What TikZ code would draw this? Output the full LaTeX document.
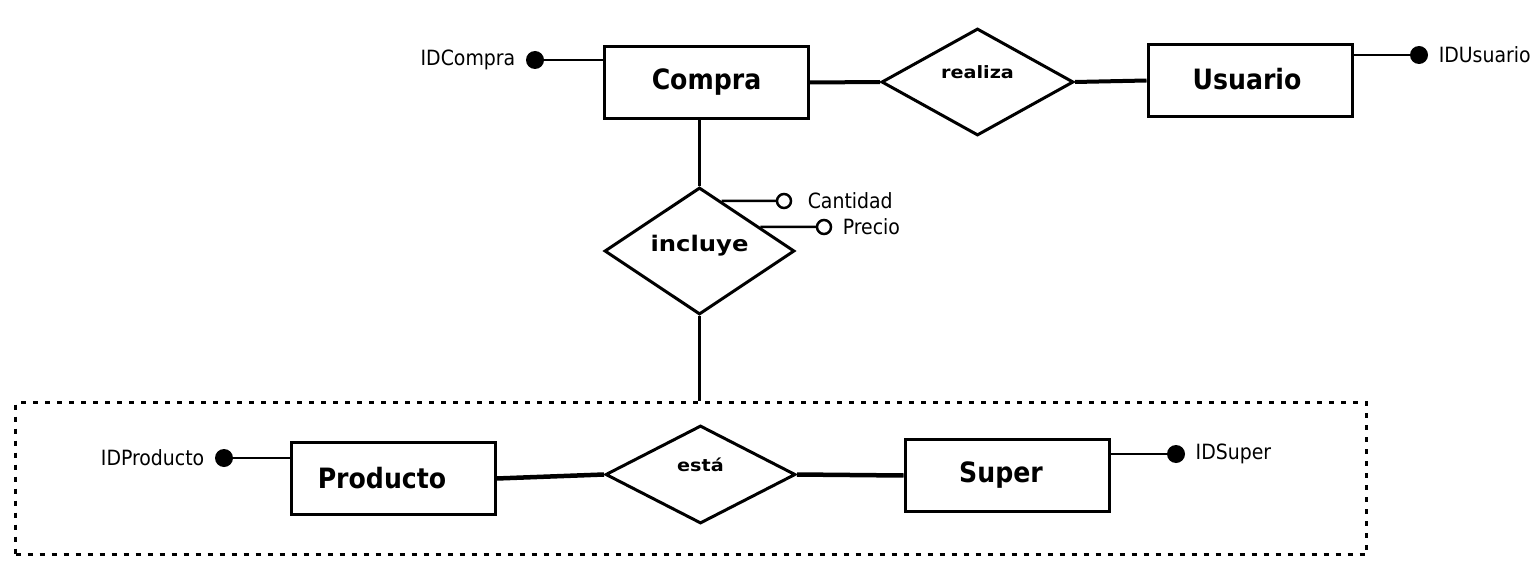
\documentclass[tikz,border=0pt]{standalone}
\usepackage{fontspec}
\setmainfont{DejaVu Sans}
\newfontfamily\condfont{DejaVu Sans Condensed}
\newfontfamily\widefont[FakeStretch=1.13]{DejaVu Sans}
\usetikzlibrary{shapes.geometric, calc}

\begin{document}
\begin{tikzpicture}[x=1pt, y=-1pt,
        entity/.style={draw, line width=3pt, fill=white, inner sep=0pt,
            minimum width=204pt, minimum height=72pt,
            font=\condfont\bfseries\fontsize{28}{30}\selectfont},
        relation/.style={draw, diamond, line width=3pt, fill=white, inner sep=0pt},
        relname/.style={font=\widefont\bfseries\fontsize{#1}{#1}\selectfont},
        keyattr/.style={circle, fill, inner sep=0pt, minimum size=18pt},
        attr/.style={circle, draw, line width=2.5pt, fill=white, inner sep=0pt,
            minimum size=14pt},
        attrname/.style={font=\condfont\fontsize{21}{23}\selectfont, label distance=7pt},
        link/.style={line width=4pt},
        attrlink/.style={line width=2.5pt}]
        \useasboundingbox (0,0) rectangle (1536,575);

        % dotted group around Producto - esta - Super
        \node[draw, line width=3pt, dash pattern=on 5pt off 7pt, minimum width=1351pt,
            minimum height=152pt] (grupo) at (691,478.5) {};

        % entities
        \node[entity] (compra) at (706.5,82.5) {Compra};
        \node[entity] (usuario) at (1250,80.5) {\raisebox{3pt}{Usuario}\rule{6pt}{0pt}};
        \node[entity] (producto) at (393,478.5) {\raisebox{2pt}{Producto}\rule{22pt}{0pt}};
        \node[entity] (super) at (1007,475.5) {\raisebox{2pt}{Super}\rule{12pt}{0pt}};

        % relations
        \node[relation, minimum width=192pt, minimum height=107pt,
            label={[relname=17, yshift=10pt]center:realiza}] (realiza) at (977.5,82) {};
        \node[relation, minimum width=190pt, minimum height=127pt,
            label={[relname=21.5, yshift=5pt]center:incluye}] (incluye) at (699.5,251) {};
        \node[relation, minimum width=190pt, minimum height=98pt,
            label={[relname=17, yshift=10pt]center:está}] (esta) at (700.5,474.5) {};

        % attributes
        \node[keyattr, label={[attrname]left:IDCompra}] (idcompra) at (535,60) {};
        \node[keyattr, label={[attrname]right:IDUsuario}] (idusuario) at (1419,55) {};
        \node[keyattr, label={[attrname]left:IDProducto}] (idproducto) at (224,458) {};
        \node[keyattr, label={[attrname]right:IDSuper}] (idsuper) at (1176,454) {};
        \node[attr, label={[attrname, label distance=12pt]right:Cantidad}] (cantidad) at (784,201) {};
        \node[attr, label={[attrname]right:Precio}] (precio) at (824,227) {};

        % connectors
        \draw[link] (compra.east) -- (realiza.west);
        \draw[link] (realiza.east) -- (usuario.west);
        \draw[link, line width=3.5pt] (incluye.north) -- (incluye.north |- compra.south);
        \draw[link, line width=3.5pt] (incluye.south) -- (incluye.south |- grupo.north);
        \draw[link, line width=4.5pt] (producto.east) -- (esta.west);
        \draw[link, line width=4.5pt] (esta.east) -- (super.west);

        \draw[attrlink] (idcompra) -- (idcompra -| compra.west);
        \draw[attrlink] (idusuario) -- (idusuario -| usuario.east);
        \draw[attrlink] (idproducto) -- (idproducto -| producto.west);
        \draw[attrlink] (idsuper) -- (idsuper -| super.east);
        \draw[attrlink] ($(incluye.north)!0.23!(incluye.east)$) -- (cantidad);
        \draw[attrlink] ($(incluye.north)!0.63!(incluye.east)$) -- (precio);
    \end{tikzpicture}
\end{document}
